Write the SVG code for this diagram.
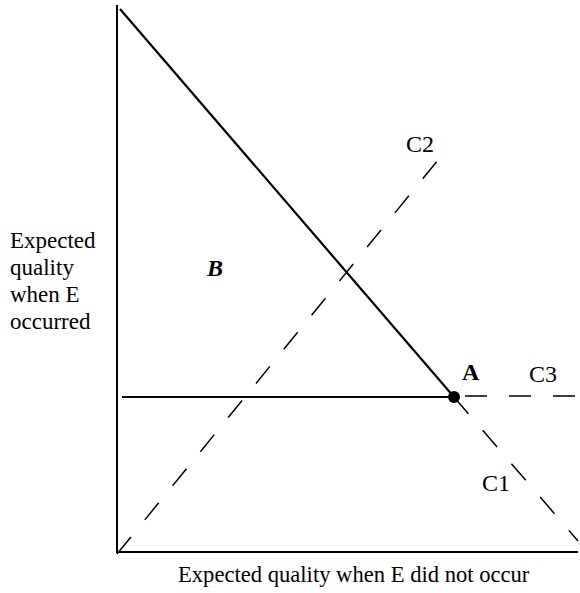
<svg xmlns="http://www.w3.org/2000/svg" width="580" height="593" viewBox="0 0 580 593">
<style>
text{font-family:"Liberation Serif","Times New Roman",serif;font-size:23px;fill:#000}
.lbl{font-size:24px}
.xl{font-size:22.6px}
.ax{stroke:#000;stroke-width:2;fill:none}
.sol{stroke:#000;stroke-width:2.2;fill:none}
.dash{stroke:#000;stroke-width:1.5;fill:none;stroke-dasharray:22 22}
</style>
<rect width="580" height="593" fill="#fff"/>
<g id="axes">
<path class="ax" d="M117,5 V552 H578"/>
</g>
<g id="connectors">
<path class="sol" d="M120,9 L454,397"/>
<path class="sol" d="M122,397 H454"/>
<path class="dash" d="M117,554 L447,149"/>
<path class="dash" d="M465,396 H580" stroke-dasharray="0 20 22 23 22 23 22"/>
<path class="dash" d="M454,397 L578,541" stroke-dasharray="0 72 22 22 22 22 22"/>
</g>
<g id="A">
<circle cx="454" cy="397" r="6"/>
<text class="lbl" x="462" y="380" font-weight="bold">A</text>
</g>
<g id="B">
<text class="lbl" x="207" y="276" font-weight="bold" font-style="italic">B</text>
</g>
<g id="C1"><text class="lbl" x="482" y="491">C1</text></g>
<g id="C2"><text class="lbl" x="406" y="152">C2</text></g>
<g id="C3"><text class="lbl" x="529" y="382">C3</text></g>
<g id="ylabel">
<text x="10" y="248">Expected</text>
<text x="10" y="275">quality</text>
<text x="10" y="302">when E</text>
<text x="10" y="329">occurred</text>
</g>
<g id="xlabel">
<text class="xl" x="178" y="582">Expected quality when E did not occur</text>
</g>
</svg>
